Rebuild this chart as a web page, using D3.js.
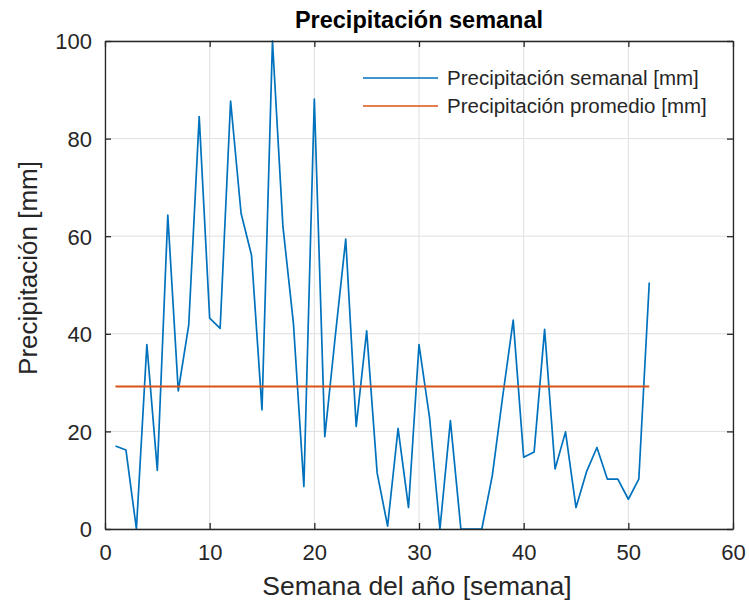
<!DOCTYPE html>
<html>
<head>
<meta charset="utf-8">
<script src="https://cdn.jsdelivr.net/npm/d3@7.9.0/dist/d3.min.js"></script>
<style>
  body { margin: 0; background: #fff; }
  svg { font-family: "Liberation Sans", Arial, Helvetica, sans-serif; }
</style>
</head>
<body>
<svg id="chart" width="749" height="611"></svg>
<script>
// weekly precipitation
const weeks = d3.range(1, 53);
const rain = [17.0, 16.2, 0, 37.8, 12.0, 64.3, 28.3, 41.8, 84.5, 43.2,
  41.1, 87.7, 64.7, 56.1, 24.4, 100, 62, 42.2, 8.7, 88.1,
  18.9, 39.5, 59.4, 21.0, 40.6, 11.5, 0.6, 20.6, 4.4, 37.8,
  23.0, 0, 22.2, 0, 0, 0, 10.9, 27.2, 42.8, 14.7,
  15.8, 40.9, 12.3, 19.9, 4.4, 11.7, 16.7, 10.2, 10.2, 6.1,
  10.2, 50.5];
const promedio = 29.2;
const xTicks = [0, 10, 20, 30, 40, 50, 60];
const yTicks = [0, 20, 40, 60, 80, 100];
const legendLabels = ['Precipitación semanal [mm]', 'Precipitación promedio [mm]'];

const blue = '#0072BD', orange = '#D95319', axisCol = '#262626';
const margin = { top: 41, right: 16, bottom: 82, left: 105 };
const width = 749 - margin.left - margin.right;
const height = 611 - margin.top - margin.bottom;

const svg = d3.select('#chart');
const g = svg.append('g').attr('transform', `translate(${margin.left},${margin.top})`);

const x = d3.scaleLinear().domain([0, 60]).range([0, width]);
const y = d3.scaleLinear().domain([0, 100]).range([height, 0]);

// grid
g.append('g').selectAll('line').data(xTicks).join('line')
  .attr('x1', d => x(d)).attr('x2', d => x(d))
  .attr('y1', 0).attr('y2', height)
  .attr('stroke', '#dfdfdf').attr('stroke-width', 1);
g.append('g').selectAll('line').data(yTicks).join('line')
  .attr('y1', d => y(d)).attr('y2', d => y(d))
  .attr('x1', 0).attr('x2', width)
  .attr('stroke', '#dfdfdf').attr('stroke-width', 1);

// data lines
const line = d3.line().x((d, i) => x(weeks[i])).y(d => y(d));
g.append('path').datum(rain)
  .attr('d', line).attr('fill', 'none')
  .attr('stroke', blue).attr('stroke-width', 1.7)
  .attr('stroke-linejoin', 'round');

g.append('line')
  .attr('x1', x(weeks[0])).attr('x2', x(weeks[weeks.length - 1]))
  .attr('y1', y(promedio)).attr('y2', y(promedio))
  .attr('stroke', orange).attr('stroke-width', 1.8);

// axes (ticks inward, box on)
const fs = 22;
const axBottom = g.append('g').attr('transform', `translate(0,${height})`)
  .call(d3.axisBottom(x).tickValues(xTicks).tickSizeInner(-6).tickSizeOuter(0).tickPadding(15));
const axLeft = g.append('g')
  .call(d3.axisLeft(y).tickValues(yTicks).tickSizeInner(-6).tickSizeOuter(0).tickPadding(13));
const axTop = g.append('g')
  .call(d3.axisTop(x).tickValues(xTicks).tickSizeInner(-6).tickSizeOuter(0).tickFormat(''));
const axRight = g.append('g').attr('transform', `translate(${width},0)`)
  .call(d3.axisRight(y).tickValues(yTicks).tickSizeInner(-6).tickSizeOuter(0).tickFormat(''));

[axBottom, axLeft, axTop, axRight].forEach(a => {
  a.select('.domain').attr('stroke', axisCol).attr('stroke-width', 1.3);
  a.selectAll('.tick line').attr('stroke', axisCol).attr('stroke-width', 1.3);
  a.selectAll('.tick text').attr('fill', axisCol).style('font-size', fs + 'px');
});
axLeft.selectAll('.tick text').attr('dy', '0.36em');

// title and labels
svg.append('text')
  .attr('x', margin.left + width / 2).attr('y', 28)
  .attr('text-anchor', 'middle')
  .style('font-size', '23.5px').style('font-weight', 'bold')
  .attr('fill', '#000')
  .text('Precipitación semanal');

svg.append('text')
  .attr('x', margin.left + width / 2 - 2).attr('y', 595)
  .attr('text-anchor', 'middle')
  .style('font-size', '26.5px').attr('fill', axisCol)
  .text('Semana del año [semana]');

svg.append('text')
  .attr('transform', `translate(37,${268}) rotate(-90)`)
  .attr('text-anchor', 'middle')
  .style('font-size', '26px').attr('fill', axisCol)
  .text('Precipitación [mm]');

// legend (no box)
const legend = svg.append('g').attr('transform', 'translate(363,78)');
legendLabels.forEach((lab, i) => {
  const row = legend.append('g').attr('transform', `translate(0,${i * 28})`);
  row.append('line').attr('x1', 0).attr('x2', 75)
    .attr('stroke', i === 0 ? blue : orange).attr('stroke-width', 1.6);
  row.append('text').attr('x', 84).attr('dy', '0.36em')
    .style('font-size', '20.5px').attr('fill', axisCol)
    .text(lab);
});
</script>
</body>
</html>
